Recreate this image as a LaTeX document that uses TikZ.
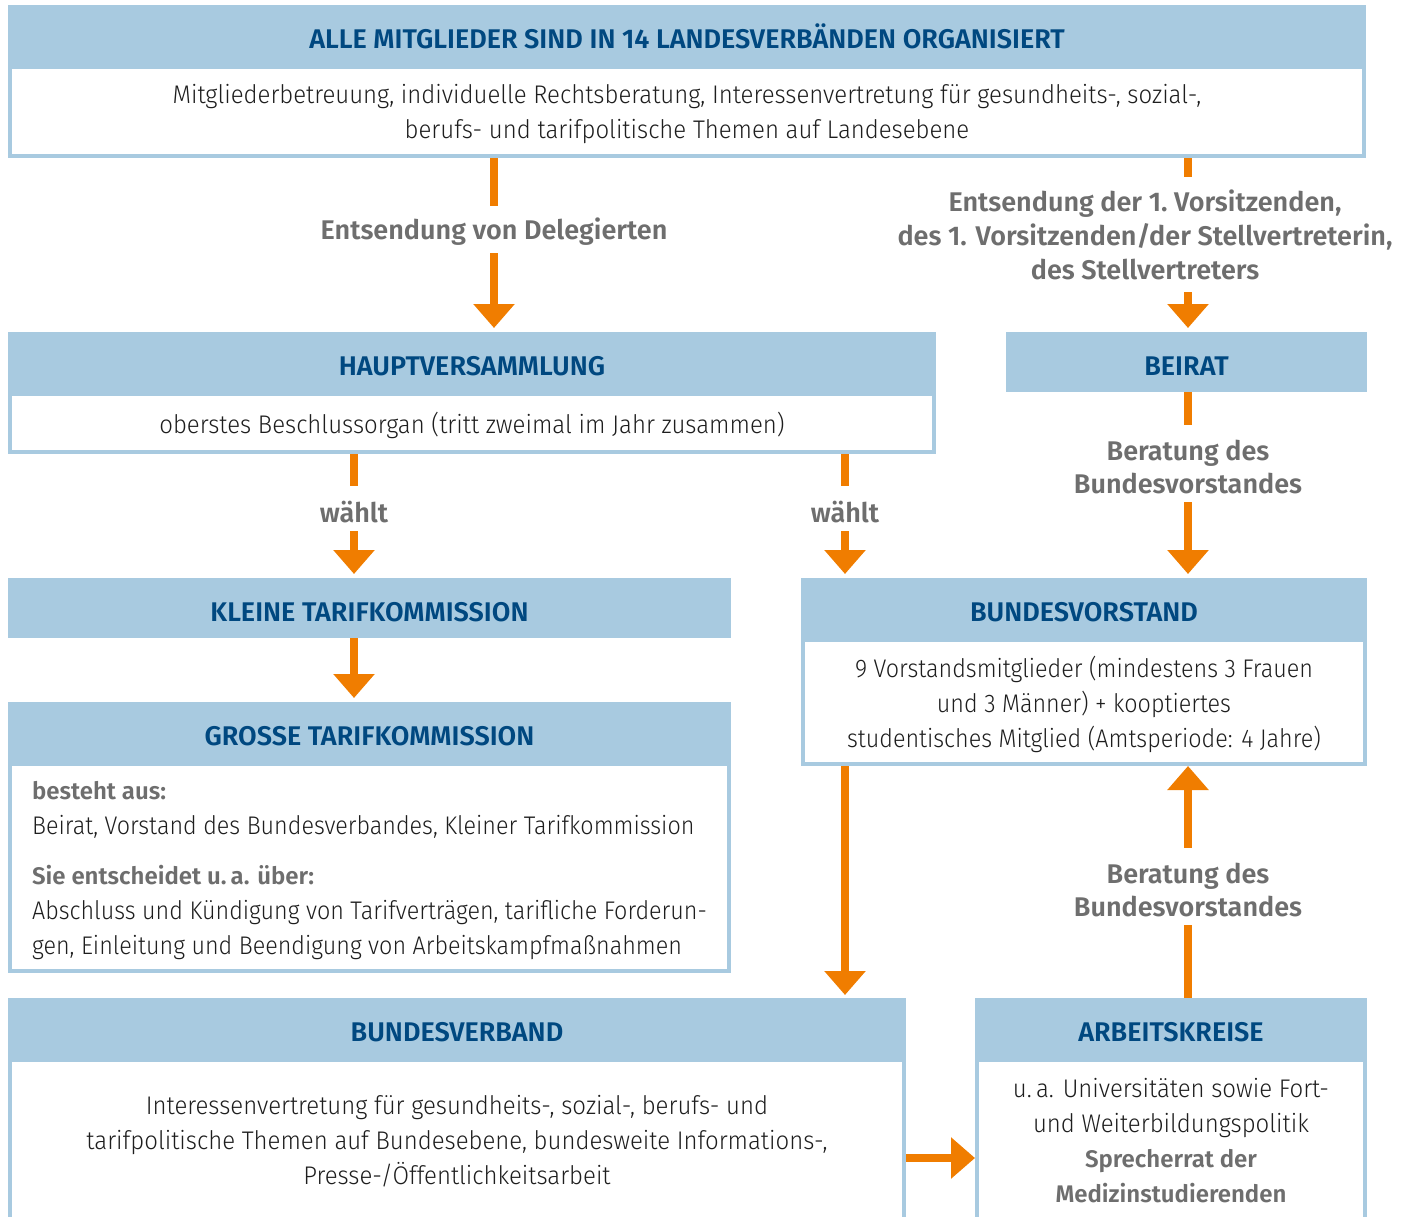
\documentclass[tikz,border=0pt]{standalone}
\usepackage{fontspec}
\setmainfont{Fira Sans}[UprightFont={* Light},BoldFont={* SemiBold},FakeStretch=0.94]
\newfontfamily\headfont{Fira Sans SemiBold}
\newfontfamily\narrowfont{Fira Sans Light}[FakeStretch=0.915]
\usetikzlibrary{arrows.meta}
\usetikzlibrary{positioning}
\definecolor{hdblue}{RGB}{168,202,224}
\definecolor{navy}{RGB}{0,72,128}
\definecolor{mborange}{RGB}{240,125,0}
\definecolor{lblgray}{RGB}{110,110,110}
\definecolor{txtdark}{RGB}{30,30,30}

\begin{document}
\begin{tikzpicture}[x=1pt,y=-1pt,
		band/.style={fill=hdblue,inner sep=0pt,outer sep=0pt,minimum height=60pt,text=navy,
			text height=26pt,text depth=0pt,font=\headfont\fontsize{27}{34}\selectfont},
		panel/.style={fill=white,draw=hdblue,line width=4pt,inner sep=0pt,text=txtdark,
			align=center,text depth=0pt,font=\fontsize{25.5}{35}\selectfont},
		lbl/.style={text=lblgray,align=center,inner sep=4pt,font=\headfont\fontsize{27}{33}\selectfont},
		conn/.style={draw=mborange,line width=8pt},
		tip/.style={conn,-{Triangle[width=40pt,length=24pt]}}]
			\useasboundingbox (0,0) rectangle (1405,1216);
			\clip (0,0) rectangle (1405,1216);
			\coordinate (rx) at (1188,0);
			\coordinate (hy) at (0,1158);
			% Landesverbaende
			\node[band,minimum width=1358pt] (lvhd) at (687,35) {ALLE MITGLIEDER SIND IN 14 LANDESVERBÄNDEN ORGANISIERT};
			\node[panel,minimum width=1354pt,minimum height=89pt,below=0pt of lvhd] (lvbody)
			{Mitgliederbetreuung, individuelle Rechtsberatung, Interessenvertretung für gesundheits-, sozial-,\\
				berufs- und tarifpolitische Themen auf Landesebene};
			% Hauptversammlung und Beirat
			\node[band,minimum width=928pt] (hvhd) at (472,362) {HAUPTVERSAMMLUNG};
			\node[panel,minimum width=924pt,minimum height=58pt,below=0pt of hvhd] (hvbody)
			{oberstes Beschlussorgan (tritt zweimal im Jahr zusammen)};
			\node[band,minimum width=361pt] (brhd) at (1186.5,362) {BEIRAT};
			% Tarifkommissionen
			\node[band,minimum width=723pt] (kthd) at (369.5,608) {KLEINE TARIFKOMMISSION};
			\node[band,minimum width=723pt] (gthd) at (369.5,732) {GROSSE TARIFKOMMISSION};
			\node[panel,minimum width=719pt,minimum height=207pt,below=0pt of gthd,align=left,
				font=\narrowfont\fontsize{25.5}{35}\selectfont] (gtbody)
			{{\headfont\fontsize{24}{35}\selectfont\color{lblgray}besteht aus:}\\
				Beirat, Vorstand des Bundesverbandes, Kleiner Tarifkommission\\[15pt]
				{\headfont\fontsize{24}{35}\selectfont\color{lblgray}Sie entscheidet u.\,a. über:}\\
				Abschluss und Kündigung von Tarifverträgen, tarifliche Forderun-\\
				gen, Einleitung und Beendigung von Arbeitskampfmaßnahmen};
			% Bundesvorstand
			\node[band,minimum width=566pt] (bvhd) at (1084,608) {BUNDESVORSTAND};
			\node[panel,minimum width=562pt,minimum height=124pt,below=0pt of bvhd,
				font=\narrowfont\fontsize{25.5}{35}\selectfont] (bvbody)
			{9 Vorstandsmitglieder (mindestens 3 Frauen\\
				und 3 Männer) + kooptiertes\\
				studentisches Mitglied (Amtsperiode: 4 Jahre)};
			% Bundesverband und Arbeitskreise
			\node[band,minimum width=898pt] (bbhd) at (457,1028) {BUNDESVERBAND};
			\node[panel,minimum width=894pt,minimum height=160pt,below=0pt of bbhd] (bbbody)
			{Interessenvertretung für gesundheits-, sozial-, berufs- und\\
				tarifpolitische Themen auf Bundesebene, bundesweite Informations-,\\
				Presse-/Öffentlichkeitsarbeit};
			\node[band,minimum width=392pt] (akhd) at (1171,1028) {ARBEITSKREISE};
			\node[panel,minimum width=388pt,minimum height=160pt,below=0pt of akhd] (akbody)
			{u.\,a. Universitäten sowie Fort-\\
				und Weiterbildungspolitik\\
				{\headfont\fontsize{24}{35}\selectfont\color{lblgray}Sprecherrat der}\\
				{\headfont\fontsize{24}{35}\selectfont\color{lblgray}Medizinstudierenden}};
			% Beschriftungen
			\node[lbl] (deleg) at (494,232) {Entsendung von Delegierten};
			\node[lbl,font=\headfont\fontsize{27}{34}\selectfont] (entsvs) at (1145,235)
			{Entsendung der 1.~Vorsitzenden,\\
				des 1. Vorsitzenden/der Stellvertreterin,\\des Stellvertreters};
			\node[lbl] (waehlta) at (354,512) {wählt};
			\node[lbl] (waehltb) at (845,512) {wählt};
			\node[lbl] (berata) at (1188,467) {Beratung des\\Bundesvorstandes};
			\node[lbl] (beratb) at (1188,890) {Beratung des\\Bundesvorstandes};
			% Pfeile
			\draw[conn,shorten >=8pt] (lvbody.south -| deleg) -- (deleg);
			\draw[tip,shorten <=3pt,shorten >=4pt] (deleg) -- (hvhd.north -| deleg);
			\draw[conn,shorten >=9pt] (lvbody.south -| rx) -- (entsvs.north -| rx);
			\draw[tip,shorten <=8pt,shorten >=4pt] (entsvs.south -| rx) -- (brhd.north -| rx);
			\draw[conn,shorten >=11pt] (hvbody.south -| waehlta) -- (waehlta);
			\draw[tip,shorten <=4pt,shorten >=4pt] (waehlta) -- (kthd.north -| waehlta);
			\draw[conn,shorten >=11pt] (hvbody.south -| waehltb) -- (waehltb);
			\draw[tip,shorten <=4pt,shorten >=4pt] (waehltb) -- (bvhd.north -| waehltb);
			\draw[conn,shorten >=11pt] (brhd.south -| rx) -- (berata);
			\draw[tip,shorten <=4pt,shorten >=4pt] (berata) -- (bvhd.north -| rx);
			\draw[tip,shorten >=4pt] (kthd.south -| waehlta) -- (gthd.north -| waehlta);
			\draw[tip,shorten >=3pt] (bvbody.south -| waehltb) -- (bbhd.north -| waehltb);
			\draw[conn,shorten >=4pt] (akhd.north -| rx) -- (beratb);
			\draw[tip,shorten <=11pt] (beratb) -- (bvbody.south -| rx);
			\draw[tip] (bbbody.east |- hy) -- (akbody.west |- hy);
		\end{tikzpicture}
\end{document}
